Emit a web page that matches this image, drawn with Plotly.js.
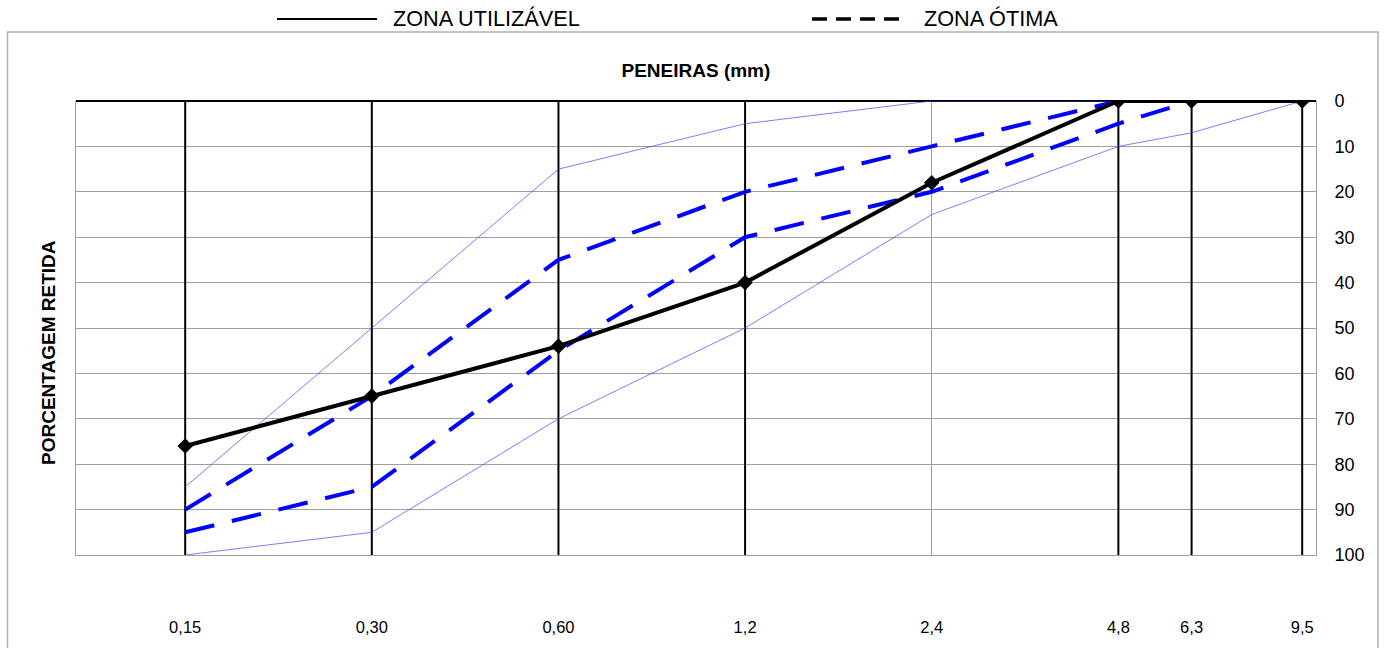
<!DOCTYPE html>
<html>
<head>
<meta charset="utf-8">
<script src="https://cdn.plot.ly/plotly-3.0.1.min.js"></script>
<style>html,body{margin:0;padding:0;background:#fff;}#chart{width:1386px;height:648px;}</style>
</head>
<body>
<div id="chart"></div>
<script>
// Sieve openings (mm) and their labels
const sieves = [0.15, 0.30, 0.60, 1.2, 2.4, 4.8, 6.3, 9.5];
const sieveLabels = ['0,15', '0,30', '0,60', '1,2', '2,4', '4,8', '6,3', '9,5'];
// Sieves with the heavy vertical reference lines
const heavySieves = [0.15, 0.30, 0.60, 1.2, 4.8, 6.3, 9.5];

// Sample curve (% retained)
const sample = [76, 65, 54, 40, 18, 0, 0, 0];
// Usable zone limits (thin blue)
const usableLower = [100, 95, 70, 50, 25, 10, 7, 0];
const usableUpper = [85, 50, 15, 5, 0, 0, 0, 0];
// Optimal zone limits (dashed blue)
const optimalLower = [95, 85, 55, 30, 20, 5, 0];
const optimalUpper = [90, 65, 35, 20, 10, 0];

const yTicks = [0, 10, 20, 30, 40, 50, 60, 70, 80, 90, 100];

// vertical heavy lines built from data
const vx = [], vy = [];
heavySieves.forEach(s => { vx.push(s, s, null); vy.push(0, 100, null); });

const traces = [
  {x: vx, y: vy, mode: 'lines', line: {color: '#000', width: 2}, showlegend: false, hoverinfo: 'skip'},
  {x: sieves, y: usableLower, mode: 'lines', line: {color: 'rgba(70,70,255,0.7)', width: 1}, showlegend: false},
  {x: sieves, y: usableUpper, mode: 'lines', line: {color: 'rgba(70,70,255,0.7)', width: 1}, showlegend: false},
  {x: sieves.slice(0, optimalLower.length), y: optimalLower, mode: 'lines', line: {color: '#0000ff', width: 4, dash: '30px,18px'}, showlegend: false},
  {x: sieves.slice(0, optimalUpper.length), y: optimalUpper, mode: 'lines', line: {color: '#0000ff', width: 4, dash: '30px,18px'}, showlegend: false},
  {x: sieves, y: sample, mode: 'lines+markers', line: {color: '#000', width: 4}, marker: {symbol: 'diamond', size: 12, color: '#000'}, showlegend: false}
];

const PL = 76, PR = 1316, PT = 101, PB = 555;
const px = v => (v - PL) / (PR - PL);
const py = v => (PB - v) / (PB - PT);

const layout = {
  width: 1386, height: 648,
  margin: {l: PL, r: 1386 - PR, t: PT, b: 648 - PB},
  paper_bgcolor: '#fff', plot_bgcolor: '#fff',
  font: {family: 'Liberation Sans, Arial, sans-serif', color: '#000'},
  showlegend: false,
  title: {text: '<b>PENEIRAS (mm)</b>', font: {size: 19, color: '#000'}, x: 0.5021, xanchor: 'center', y: 1 - 70 / 648, yanchor: 'middle', yref: 'container'},
  xaxis: {
    type: 'log', range: [-1, 1],
    tickvals: sieves, ticktext: sieveLabels,
    ticks: '', ticklabelstandoff: 57,
    tickfont: {size: 16.5, color: '#000'},
    showgrid: true, gridcolor: '#a0a0a0', gridwidth: 1,
    showline: true, linecolor: '#a0a0a0', linewidth: 1, mirror: false,
    zeroline: false, fixedrange: true
  },
  yaxis: {
    range: [100, 0], side: 'right',
    tickvals: yTicks, ticks: '',
    tickfont: {size: 18, color: '#000'}, ticklabelstandoff: 14,
    showgrid: true, gridcolor: '#a0a0a0', gridwidth: 1,
    showline: true, linecolor: '#a0a0a0', linewidth: 1, mirror: true,
    zeroline: true, zerolinecolor: '#000', zerolinewidth: 2, fixedrange: true
  },
  shapes: [
    {type: 'rect', xref: 'paper', yref: 'paper', x0: px(7.5), x1: px(1378), y0: py(660), y1: py(32), line: {color: '#b0b0b0', width: 1.5}, layer: 'below'},
    {type: 'line', xref: 'paper', yref: 'paper', x0: px(277), x1: px(377), y0: py(19), y1: py(19), line: {color: '#000', width: 2}},
    {type: 'line', xref: 'paper', yref: 'paper', x0: px(812), x1: px(899), y0: py(19), y1: py(19), line: {color: '#000', width: 3.5, dash: '15px,9px'}}
  ],
  annotations: [
    {text: '<b>PORCENTAGEM RETIDA</b>', textangle: -90, xref: 'paper', yref: 'paper', x: px(48), y: py(353), xanchor: 'center', yanchor: 'middle', showarrow: false, font: {size: 19, color: '#000'}},
    {text: 'ZONA UTILIZÁVEL', xref: 'paper', yref: 'paper', x: px(391), y: py(19), xanchor: 'left', yanchor: 'middle', showarrow: false, font: {size: 21.7, color: '#000'}},
    {text: 'ZONA ÓTIMA', xref: 'paper', yref: 'paper', x: px(922), y: py(19), xanchor: 'left', yanchor: 'middle', showarrow: false, font: {size: 21.7, color: '#000'}}
  ]
};

Plotly.newPlot('chart', traces, layout, {displayModeBar: false, staticPlot: true});
</script>
</body>
</html>
